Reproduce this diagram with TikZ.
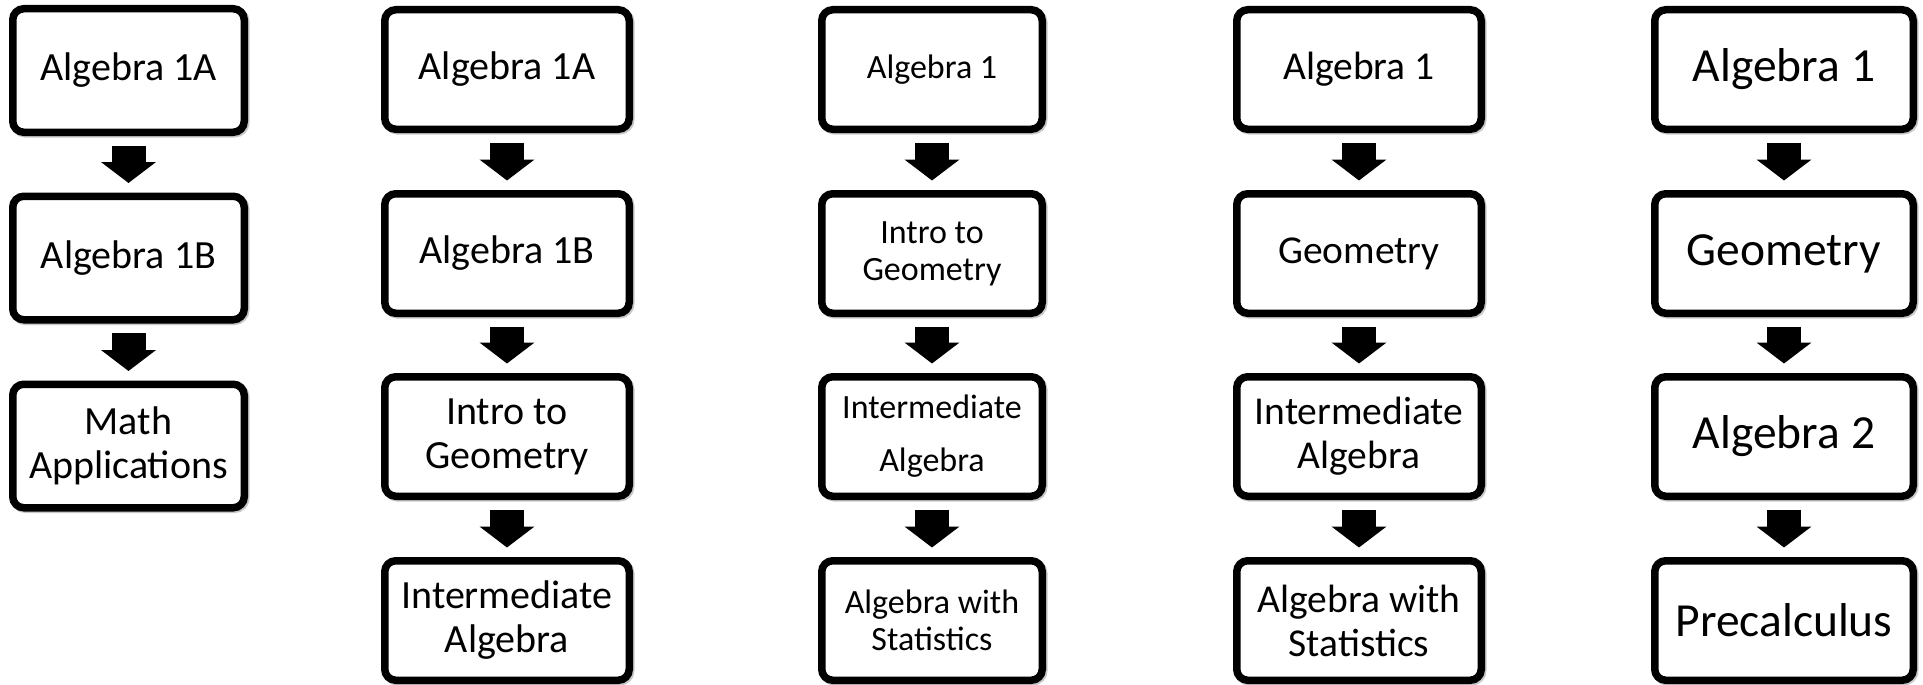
\documentclass[tikz,border=0pt]{standalone}
\usepackage{fontspec}
\setmainfont{Carlito}
\usetikzlibrary{arrows.meta}
\tikzset{
  course/.style={draw=black, line width=7.5pt, rounded corners=11pt, fill=white, align=center, inner sep=0pt,
    preaction={draw=black!22, line width=7.5pt, transform canvas={xshift=1.5pt,yshift=-1.5pt}}},
  colA/.style={course, minimum width=231.5pt, minimum height=123.5pt, font=\fontsize{40}{44}\selectfont},
  colB/.style={course, minimum width=244.5pt, minimum height=119.5pt, font=\fontsize{40}{44}\selectfont},
  colC/.style={course, minimum width=220.5pt, minimum height=119.5pt, font=\fontsize{34}{37}\selectfont},
  colD/.style={course, minimum width=244.5pt, minimum height=119.5pt, font=\fontsize{39.5}{44}\selectfont},
  colE/.style={course, minimum width=258.5pt, minimum height=119.5pt, font=\fontsize{47.5}{52}\selectfont},
  flow/.style={draw=black, line width=34pt, -{Triangle[width=54pt,length=21pt]}, shorten <=9.5pt, shorten >=9.5pt}
}
\begin{document}
\begin{tikzpicture}[x=1pt,y=-1pt]
\useasboundingbox (0,0) rectangle (1923,685);
% column 1
\node[colA] (a1) at (128.5,70.5) {Algebra 1A};
\node[colA] (a2) at (128.5,258) {Algebra 1B};
\node[colA] (a3) at (128.5,446) {Math\\Applications};
% column 2
\node[colB] (b1) at (507,69.5) {Algebra 1A};
\node[colB] (b2) at (507,253.5) {Algebra 1B};
\node[colB] (b3) at (507,436.5) {Intro to\\Geometry};
\node[colB] (b4) at (507,620.5) {Intermediate\\Algebra};
% column 3
\node[colC] (c1) at (932,69.5) {Algebra 1};
\node[colC] (c2) at (932,253.5) {Intro to\\Geometry};
\node[colC, font=\fontsize{34}{53}\selectfont] (c3) at (932,436.5) {Intermediate\\Algebra};
\node[colC] (c4) at (932,620.5) {Algebra with\\Statistics};
% column 4
\node[colD] (d1) at (1359,69.5) {Algebra 1};
\node[colD] (d2) at (1359,253.5) {Geometry};
\node[colD] (d3) at (1359,436.5) {Intermediate\\Algebra};
\node[colD] (d4) at (1359,620.5) {Algebra with\\Statistics};
% column 5
\node[colE] (e1) at (1784,69.5) {Algebra 1};
\node[colE] (e2) at (1784,253.5) {Geometry};
\node[colE] (e3) at (1784,436.5) {Algebra 2};
\node[colE] (e4) at (1784,620.5) {Precalculus};
% arrows
\draw[flow] (a1) -- (a2);
\draw[flow] (a2) -- (a3);
\draw[flow] (b1) -- (b2);
\draw[flow] (b2) -- (b3);
\draw[flow] (b3) -- (b4);
\draw[flow] (c1) -- (c2);
\draw[flow] (c2) -- (c3);
\draw[flow] (c3) -- (c4);
\draw[flow] (d1) -- (d2);
\draw[flow] (d2) -- (d3);
\draw[flow] (d3) -- (d4);
\draw[flow] (e1) -- (e2);
\draw[flow] (e2) -- (e3);
\draw[flow] (e3) -- (e4);
\end{tikzpicture}
\end{document}
